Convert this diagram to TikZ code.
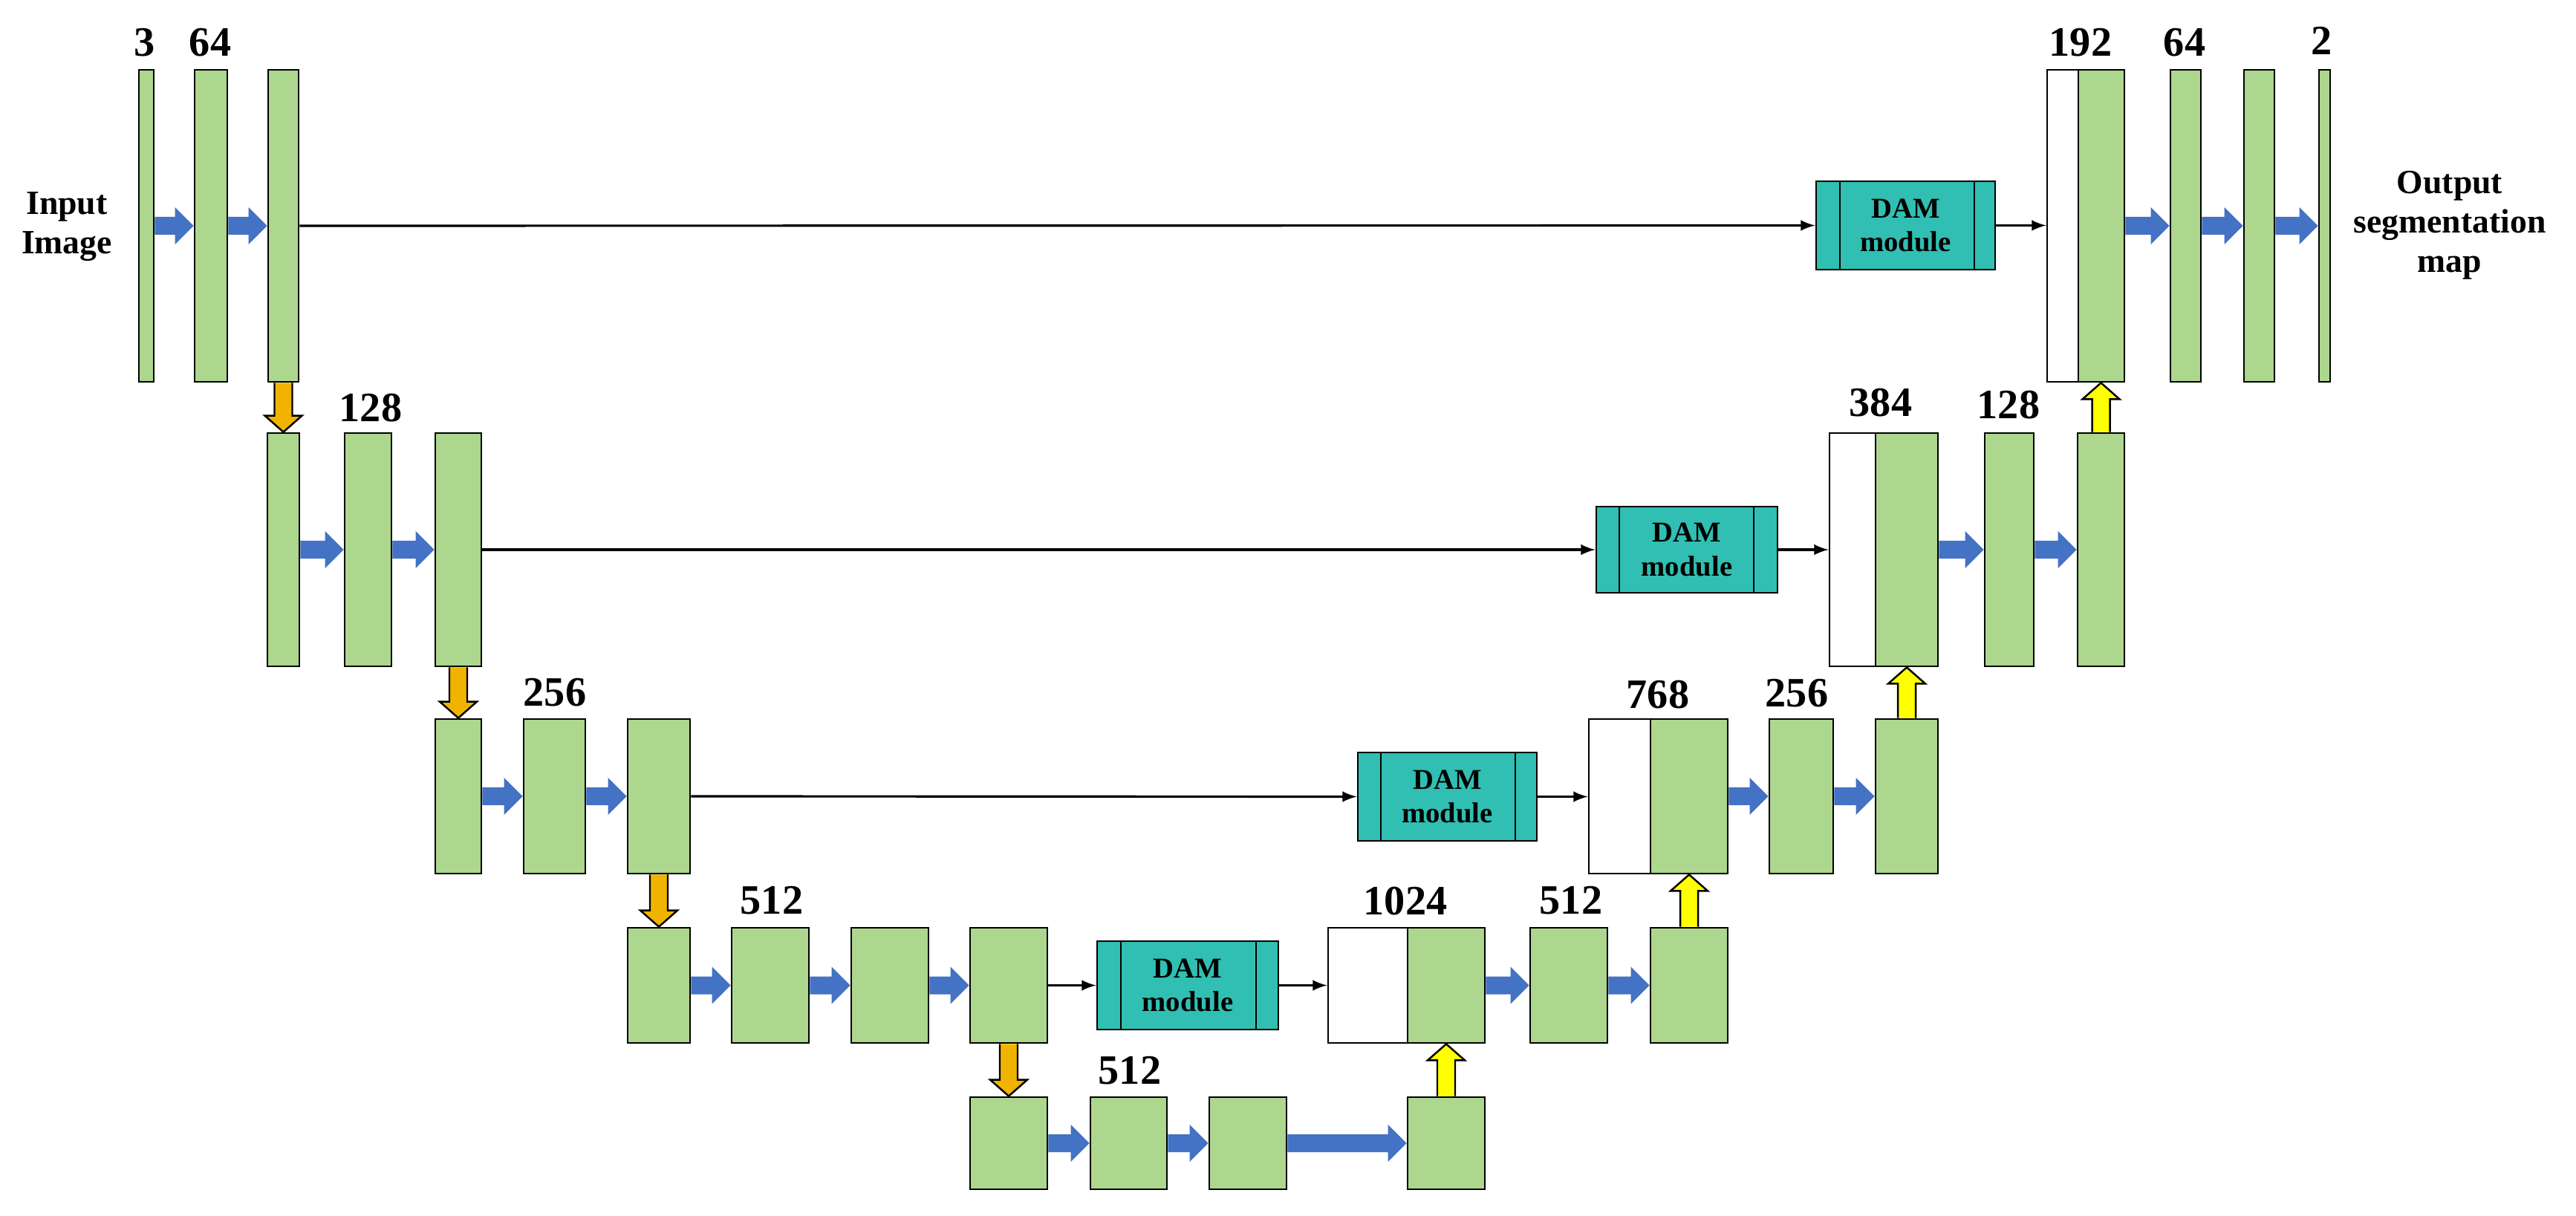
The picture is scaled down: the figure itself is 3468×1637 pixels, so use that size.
\documentclass[tikz,border=0pt]{standalone}
\usepackage{fontspec}
\setmainfont{Liberation Serif}
\usetikzlibrary{fit,calc}
\definecolor{gbar}{HTML}{ADD68E}
\definecolor{dam}{HTML}{30BFB2}
\definecolor{barrow}{HTML}{4472C4}
\definecolor{oarrow}{HTML}{F0B400}
\definecolor{yarrow}{HTML}{FFFF00}
\tikzset{
 bar/.style={draw=black, line width=0.8pt, fill=gbar, inner sep=0pt},
 cat/.style={draw=black, line width=0.8pt, fill=white, inner sep=0pt},
 dambox/.style={draw=black, line width=0.8pt, fill=dam, inner sep=0pt},
 num/.style={font=\fontsize{16}{16}\selectfont\bfseries, inner sep=0pt},
 lbl/.style={font=\fontsize{13}{15}\selectfont\bfseries, align=center, inner sep=0pt},
 damtxt/.style={font=\fontsize{11}{13}\selectfont\bfseries, align=center, inner sep=0pt},
 skip/.style={draw=black, line width=0.9pt, -latex},
}
\newcommand\B[5]{\node[bar, fit={(#2,#3) (#4,#5)}] (#1) {};}
\newcommand\W[5]{\node[cat, fit={(#2,#3) (#4,#5)}] (#1) {};}
\newcommand\Dam[7]{\node[dambox, fit={(#2,#3) (#4,#5)}] (#1) {};
 \draw[line width=0.8pt] (#6,#3) -- (#6,#5) (#7,#3) -- (#7,#5);
 \node[damtxt] (#1t) at (#1.center) {DAM\\module};}
\newcommand\Harr[2]{\fill[barrow] ($(#1.east)+(0,-12)$) -- ($(#2.west)+(-25,-12)$) -- ($(#2.west)+(-25,-25)$) -- (#2.west) -- ($(#2.west)+(-25,25)$) -- ($(#2.west)+(-25,12)$) -- ($(#1.east)+(0,12)$) -- cycle;}
\newcommand\Darr[2]{\draw[fill=oarrow, line width=0.7pt] ($(#1.south)+(-12,0)$) -- ($(#2.north)+(-12,-22)$) -- ($(#2.north)+(-25,-22)$) -- (#2.north) -- ($(#2.north)+(25,-22)$) -- ($(#2.north)+(12,-22)$) -- ($(#1.south)+(12,0)$);}
\newcommand\Uarr[2]{\draw[fill=yarrow, line width=0.7pt] ($(#1.north)+(-12,0)$) -- ($(#1.north|-#2.south)+(-12,22)$) -- ($(#1.north|-#2.south)+(-25,22)$) -- (#1.north|-#2.south) -- ($(#1.north|-#2.south)+(25,22)$) -- ($(#1.north|-#2.south)+(12,22)$) -- ($(#1.north)+(12,0)$);}
\begin{document}
\begin{tikzpicture}[x=0.01cm,y=-0.01cm]
\useasboundingbox (0,0) rectangle (3468,1637);
% row 1
\B{a1}{187}{94}{207}{514}
\B{a2}{262}{94}{306}{514}
\B{a3}{361}{94}{402}{514}
% row 2
\B{b1}{360}{583}{403}{897}
\B{b2}{464}{583}{527}{897}
\B{b3}{586}{583}{648}{897}
% row 3
\B{c1}{586}{968}{648}{1176}
\B{c2}{705}{968}{788}{1176}
\B{c3}{845}{968}{929}{1176}
% row 4
\B{d1}{845}{1249}{929}{1404}
\B{d2}{985}{1249}{1089}{1404}
\B{d3}{1146}{1249}{1250}{1404}
\B{d4}{1306}{1249}{1410}{1404}
% row 5
\B{e1}{1306}{1477}{1410}{1601}
\B{e2}{1468}{1477}{1571}{1601}
\B{e3}{1628}{1477}{1732}{1601}
\B{e4}{1895}{1477}{1999}{1601}
% decoder row 4
\W{f0}{1788}{1249}{1895}{1404}
\B{f1}{1895}{1249}{1999}{1404}
\B{f2}{2060}{1249}{2164}{1404}
\B{f3}{2222}{1249}{2326}{1404}
% decoder row 3
\W{g0}{2139}{968}{2222}{1176}
\B{g1}{2222}{968}{2326}{1176}
\B{g2}{2382}{968}{2468}{1176}
\B{g3}{2525}{968}{2609}{1176}
% decoder row 2
\W{h0}{2463}{583}{2525}{897}
\B{h1}{2525}{583}{2609}{897}
\B{h2}{2672}{583}{2738}{897}
\B{h3}{2797}{583}{2860}{897}
% decoder row 1
\W{i0}{2756}{94}{2798}{514}
\B{i1}{2798}{94}{2860}{514}
\B{i2}{2922}{94}{2963}{514}
\B{i3}{3021}{94}{3062}{514}
\B{i4}{3122}{94}{3137}{514}
% DAM modules
\Dam{m1}{2445}{244}{2686}{363}{2477}{2658}
\Dam{m2}{2149}{682}{2393}{798}{2180}{2361}
\Dam{m3}{1828}{1013}{2069}{1132}{1859}{2040}
\Dam{m4}{1477}{1267}{1721}{1386}{1509}{1691}
% skip connections
\draw[skip] (a3.east) -- (m1.west);
\draw[skip] (m1.east) -- (m1.east-|i0.west);
\draw[skip] (b3.east) -- (m2.west);
\draw[skip] (m2.east) -- (m2.east-|h0.west);
\draw[skip] (c3.east) -- (m3.west);
\draw[skip] (m3.east) -- (m3.east-|g0.west);
\draw[skip] (d4.east) -- (m4.west);
\draw[skip] (m4.east) -- (m4.east-|f0.west);
% blue arrows
\Harr{a1}{a2}\Harr{a2}{a3}
\Harr{b1}{b2}\Harr{b2}{b3}
\Harr{c1}{c2}\Harr{c2}{c3}
\Harr{d1}{d2}\Harr{d2}{d3}\Harr{d3}{d4}
\Harr{e1}{e2}\Harr{e2}{e3}\Harr{e3}{e4}
\Harr{f1}{f2}\Harr{f2}{f3}
\Harr{g1}{g2}\Harr{g2}{g3}
\Harr{h1}{h2}\Harr{h2}{h3}
\Harr{i1}{i2}\Harr{i2}{i3}\Harr{i3}{i4}
% down arrows
\Darr{a3}{b1}\Darr{b3}{c1}\Darr{c3}{d1}\Darr{d4}{e1}
% up arrows
\Uarr{e4}{f1}\Uarr{f3}{g1}\Uarr{g3}{h1}\Uarr{h3}{i1}
% labels
\node[num] (n1) at (195,57) {3};
\node[num] (n2) at (283,57) {64};
\node[num] (n3) at (499,549) {128};
\node[num] (n4) at (747,932) {256};
\node[num] (n5) at (1039,1212) {512};
\node[num] (n6) at (1521,1441) {512};
\node[num] (n7) at (1892,1213) {1024};
\node[num] (n8) at (2115,1212) {512};
\node[num] (n9) at (2232,935) {768};
\node[num] (n10) at (2419,933) {256};
\node[num] (n11) at (2532,542) {384};
\node[num] (n12) at (2704,545) {128};
\node[num] (n13) at (2801,57) {192};
\node[num] (n14) at (2941,57) {64};
\node[num] (n15) at (3126,55) {2};
\node[lbl] (inp) at (90,305) {Input\\Image};
\node[lbl] (out) at (3298,303) {Output\\segmentation\\map};
\end{tikzpicture}
\end{document}
